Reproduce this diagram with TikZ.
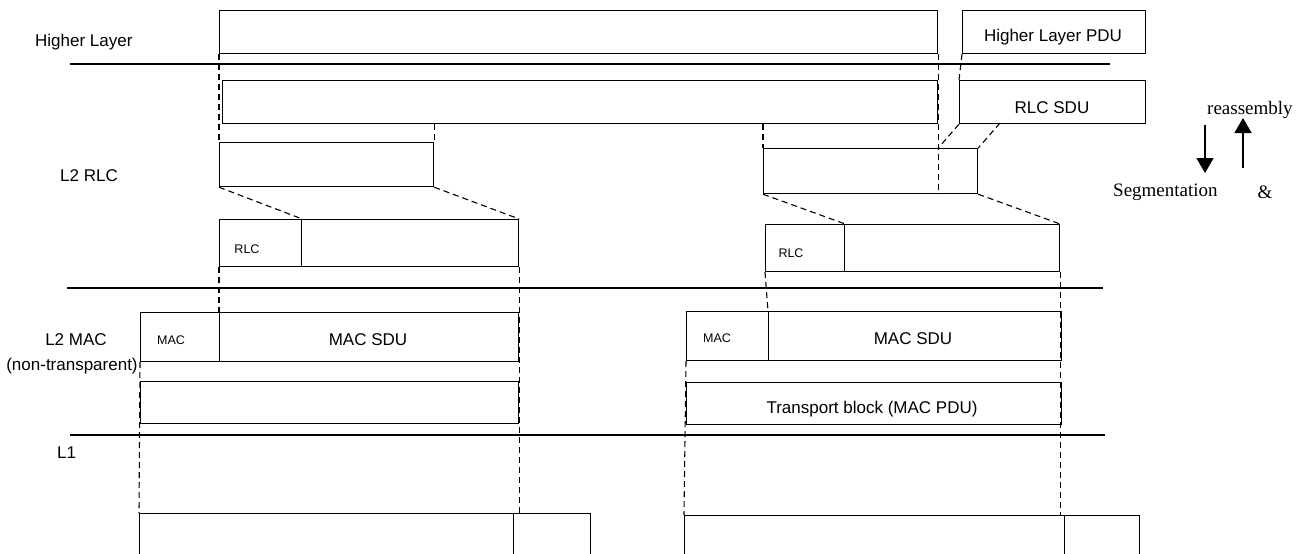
\documentclass[tikz,border=0pt]{standalone}
\usepackage{fontspec}
\setmainfont{Liberation Sans}
\newfontfamily\timesface{Liberation Serif}
\usetikzlibrary{arrows.meta}
\begin{document}
\begin{tikzpicture}[x=1pt,y=-1pt,
  box/.style={draw, line width=1.2pt, inner sep=0pt, anchor=north west},
  layerline/.style={line width=1.1pt},
  conn/.style={dashed, line width=1.1pt, dash pattern=on 6pt off 4pt},
  lbl/.style={inner sep=0pt, font=\fontsize{17}{20}\selectfont},
  small/.style={inner sep=0pt, font=\fontsize{12.5}{15}\selectfont},
  serif/.style={inner sep=0pt, font=\timesface\fontsize{19}{22}\selectfont},
  flow/.style={line width=1.4pt, -{Triangle[length=15pt, width=17pt]}}]
\clip (0,0) rectangle (1307,554);
\fill[white] (0,0) rectangle (1307,554);

% layer separators
\coordinate (l1a) at (70,64);   \coordinate (l1b) at (1110,64);
\coordinate (l2a) at (67,288);  \coordinate (l2b) at (1103,288);
\coordinate (l3a) at (70,435);  \coordinate (l3b) at (1105,435);
\draw[layerline] (l1a) -- (l1b);
\draw[layerline] (l2a) -- (l2b);
\draw[layerline] (l3a) -- (l3b);

% layer labels
\node[lbl, anchor=west] (tHL) at (35,42) {Higher Layer};
\node[lbl, anchor=west] (tRLC) at (60,176) {L2 RLC};
\node[lbl] (tMAC) at (76,340) {L2 MAC};
\node[lbl] (tNT) at (72,366) {(non-transparent)};
\node[lbl, anchor=west] (tL1) at (57,453) {L1};

% higher layer
\node[box, minimum width=718pt, minimum height=43pt] (hl) at (219,10) {};
\node[box, minimum width=183pt, minimum height=43pt] (hpdu) at (962,10) {};
\node[lbl] (thpdu) at (1053,37) {Higher Layer PDU};

% RLC SDUs
\node[box, minimum width=715pt, minimum height=43pt] (sdu) at (222,80) {};
\node[box, minimum width=186pt, minimum height=43pt] (rsdu) at (959,80) {};
\node[lbl] (trsdu) at (1052,108) {RLC SDU};

% RLC segments
\node[box, minimum width=214pt, minimum height=44pt] (rlcA) at (219,142) {};
\node[box, minimum width=214pt, minimum height=45pt] (rlcB) at (763,148) {};

% RLC PDUs
\node[box, minimum width=82pt, minimum height=47pt] (pAh) at (219,219) {};
\node[box, minimum width=217pt, minimum height=47pt] (pAb) at (301,219) {};
\node[small] (tpAh) at (247,249) {RLC};
\node[box, minimum width=79pt, minimum height=47pt] (pBh) at (765,224) {};
\node[box, minimum width=215pt, minimum height=47pt] (pBb) at (844,224) {};
\node[small] (tpBh) at (791,253) {RLC};

% MAC PDUs
\node[box, minimum width=79pt, minimum height=49pt] (mAh) at (140,312) {};
\node[box, minimum width=299pt, minimum height=49pt] (mAs) at (219,312) {};
\node[small] (tmAh) at (171,340) {MAC};
\node[lbl] (tmAs) at (368,340) {MAC SDU};
\node[box, minimum width=82pt, minimum height=49pt] (mBh) at (686,311) {};
\node[box, minimum width=293pt, minimum height=49pt] (mBs) at (768,311) {};
\node[small] (tmBh) at (717,338) {MAC};
\node[lbl] (tmBs) at (913,339) {MAC SDU};

% transport blocks
\node[box, minimum width=378pt, minimum height=42pt] (tbA) at (140,381) {};
\node[box, minimum width=375pt, minimum height=42pt] (tbB) at (686,382) {};
\node[lbl] (ttbB) at (872,409) {Transport block (MAC PDU)};

% L1 blocks
\node[box, minimum width=374pt, minimum height=70pt] (phA) at (139,513) {};
\node[box, minimum width=77pt, minimum height=70pt] (phA2) at (513,513) {};
\node[box, minimum width=380pt, minimum height=70pt] (phB) at (684,515) {};
\node[box, minimum width=75pt, minimum height=70pt] (phB2) at (1064,515) {};

% dashed connectors: higher layer -> RLC
\draw[conn] (hl.south west) -- (rlcA.north west);
\draw[conn] (hl.south east) -- (hl.south east |- rlcB.south);
\draw[conn] (hpdu.south west) -- (rsdu.north west);
\draw[conn] (rlcA.north east |- sdu.south) -- (rlcA.north east);
\draw[conn] (rlcB.north west |- sdu.south) -- (rlcB.north west);
\coordinate (rsduc) at (1000,123);
\draw[conn] (rsdu.south west) -- (hl.south east |- rlcB.north);
\draw[conn] (rsduc) -- (rlcB.north east);

% RLC segment -> RLC PDU
\draw[conn] (rlcA.south west) -- (pAh.north east);
\draw[conn] (rlcA.south east) -- (pAb.north east);
\draw[conn] (rlcB.south west) -- (pBh.north east);
\draw[conn] (rlcB.south east) -- (pBb.north east);

% RLC PDU -> MAC -> L1
\draw[conn] (pAh.south west) -- (mAs.north west);
\draw[conn] (pAb.south east) -- (pAb.south east |- phA.north);
\draw[conn] (mAh.south west) -- (phA.north west);
\draw[conn] (pBh.south west) -- (mBs.north west);
\draw[conn] (pBb.south east) -- (pBb.south east |- phB.north);
\draw[conn] (mBh.south west) -- (phB.north west);

% segmentation / reassembly
\node[serif, anchor=west] (treas) at (1207,110) {reassembly};
\node[serif, anchor=west] (tseg) at (1113,192) {Segmentation};
\node[serif] (tamp) at (1265,192) {\&};
\coordinate (dn1) at (1205,125); \coordinate (dn2) at (1205,173);
\coordinate (up1) at (1243,168); \coordinate (up2) at (1243,118);
\draw[flow] (dn1) -- (dn2);
\draw[flow] (up1) -- (up2);
\end{tikzpicture}
\end{document}
